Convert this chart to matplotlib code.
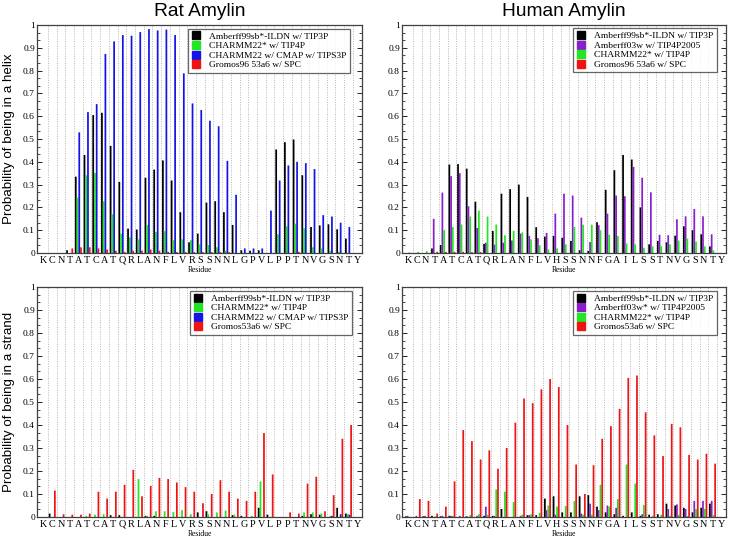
import matplotlib
matplotlib.use('Agg')
import matplotlib.pyplot as plt
import numpy as np
from matplotlib.lines import Line2D
from matplotlib.ticker import MultipleLocator, FixedLocator, FuncFormatter

rat_residues = list("KCNTATCATQRLANFLVRSSNNLGPVLPPTNVGSNTY")
human_residues = list("KCNTATCATQRLANFLVHSSNNFGAILSSTNVGSNTY")

# ---- Rat amylin, helix ----
rat_helix_amber = [0, 0, 0, 0.012, 0.335, 0.43, 0.605, 0.615, 0.47, 0.312, 0.107, 0.103, 0.33, 0.366,
                   0.406, 0.318, 0.179, 0.047, 0.085, 0.221, 0.227, 0.179, 0.123, 0.012, 0.01, 0.012, 0,
                   0.454, 0.486, 0.498, 0.341, 0.114, 0.121, 0.126, 0.104, 0.063, 0]
rat_helix_charmm22s = [0, 0, 0, 0, 0.243, 0.341, 0.351, 0.227, 0.17, 0.085, 0.068, 0.06, 0.123, 0.092,
                       0.096, 0.056, 0.06, 0.056, 0.038, 0.035, 0.025, 0.01, 0, 0, 0, 0, 0,
                       0.082, 0.117, 0.129, 0.108, 0.025, 0.02, 0.01, 0.005, 0, 0]
rat_helix_charmm22cmap = [0, 0, 0, 0, 0.529, 0.618, 0.653, 0.873, 0.928, 0.956, 0.953, 0.969, 0.982, 0.976,
                          0.98, 0.956, 0.788, 0.656, 0.627, 0.58, 0.556, 0.404, 0.255, 0.02, 0.02, 0.02, 0.186,
                          0.318, 0.384, 0.40, 0.394, 0.368, 0.166, 0.16, 0.133, 0.114, 0]
rat_helix_gromos = [0, 0, 0, 0.02, 0.025, 0.025, 0.02, 0.015, 0.01, 0.005, 0.01, 0.01, 0.015, 0.01,
                    0.005, 0.004, 0.004, 0.004, 0.004, 0.004, 0.004, 0.004, 0, 0, 0, 0, 0,
                    0, 0, 0.005, 0, 0, 0, 0, 0, 0, 0]

# ---- Human amylin, helix ----
hum_helix_amber = [0, 0, 0, 0.02, 0.035, 0.388, 0.39, 0.37, 0.225, 0.04, 0.097, 0.26, 0.28, 0.30,
                   0.246, 0.113, 0.072, 0.075, 0.067, 0.053, 0.012, 0.009, 0.135, 0.277, 0.363, 0.43, 0.41,
                   0.20, 0.038, 0.053, 0.047, 0.076, 0.117, 0.10, 0.082, 0.029, 0]
hum_helix_ff03w = [0, 0, 0, 0.15, 0.265, 0.337, 0.35, 0.205, 0.11, 0.045, 0.037, 0.045, 0.055, 0.085,
                   0.075, 0.065, 0.088, 0.173, 0.26, 0.252, 0.155, 0.048, 0.122, 0.173, 0.252, 0.249, 0.378,
                   0.33, 0.266, 0.08, 0.078, 0.148, 0.161, 0.193, 0.161, 0.082, 0]
hum_helix_charmm22s = [0.003, 0.005, 0.008, 0, 0.10, 0.114, 0.125, 0.16, 0.186, 0.16, 0.125, 0.078, 0.097, 0.09,
                       0.06, 0.034, 0.016, 0.02, 0.038, 0.114, 0.124, 0.124, 0.10, 0.08, 0.075, 0.042, 0.038,
                       0.023, 0.029, 0.029, 0.038, 0.054, 0.063, 0.05, 0.029, 0.012, 0]
hum_helix_gromos = [0, 0, 0, 0.005, 0.005, 0.005, 0.005, 0.004, 0.004, 0, 0, 0, 0, 0,
                    0, 0, 0, 0, 0, 0, 0, 0, 0, 0, 0, 0, 0,
                    0, 0, 0, 0, 0, 0, 0, 0, 0, 0]

# ---- Rat amylin, strand ----
rat_strand_amber = [0, 0.015, 0, 0, 0, 0, 0, 0, 0.008, 0.008, 0, 0, 0.005, 0.005,
                    0, 0, 0, 0, 0.02, 0.025, 0, 0, 0.008, 0.005, 0, 0.04, 0.01,
                    0, 0, 0, 0.005, 0.012, 0.01, 0, 0.04, 0.015, 0]
rat_strand_charmm22s = [0, 0, 0, 0, 0, 0.005, 0.01, 0.012, 0, 0, 0, 0.165, 0.005, 0.025,
                        0.025, 0.022, 0.03, 0.012, 0, 0.012, 0.02, 0.028, 0.01, 0, 0.005, 0.155, 0,
                        0, 0, 0, 0.02, 0.02, 0.015, 0.005, 0, 0.012, 0]
rat_strand_charmm22cmap = [0, 0, 0, 0, 0, 0, 0, 0, 0, 0, 0, 0, 0, 0,
                           0, 0, 0, 0, 0, 0, 0, 0, 0, 0, 0, 0, 0,
                           0, 0, 0, 0, 0, 0, 0.005, 0.012, 0.01, 0]
rat_strand_gromos = [0, 0.115, 0.012, 0.01, 0.01, 0.015, 0.11, 0.08, 0.11, 0.14, 0.205, 0.09, 0.135, 0.17,
                     0.165, 0.15, 0.13, 0.11, 0.06, 0.10, 0.16, 0.11, 0.08, 0.07, 0.11, 0.365, 0.185,
                     0, 0.02, 0.015, 0.145, 0.175, 0.025, 0.095, 0.34, 0.40, 0]

# ---- Human amylin, strand ----
hum_strand_amber = [0.003, 0, 0.003, 0.005, 0.003, 0.005, 0, 0.003, 0, 0.005, 0.005, 0.035, 0, 0,
                    0.008, 0.008, 0.08, 0.09, 0.02, 0.02, 0.09, 0.095, 0.045, 0.02, 0.012, 0.005, 0.02,
                    0.005, 0.01, 0.012, 0.058, 0.05, 0.04, 0.02, 0.04, 0.058, 0]
hum_strand_ff03w = [0.005, 0.005, 0.005, 0, 0.005, 0.005, 0.005, 0, 0.005, 0.045, 0.005, 0, 0, 0.005,
                    0.008, 0, 0.03, 0.01, 0, 0, 0.015, 0.058, 0.03, 0.05, 0.04, 0, 0,
                    0.012, 0, 0, 0.035, 0.055, 0.035, 0.07, 0.07, 0.07, 0]
hum_strand_charmm22s = [0, 0, 0, 0.003, 0, 0.005, 0, 0.008, 0.012, 0.01, 0.12, 0.11, 0.065, 0.01,
                        0.012, 0.018, 0.05, 0.045, 0.048, 0.07, 0.01, 0.01, 0.14, 0.045, 0.078, 0.228, 0.145,
                        0.052, 0.005, 0.01, 0.005, 0.01, 0.005, 0.035, 0.035, 0.008, 0]
hum_strand_gromos = [0, 0.078, 0.07, 0.015, 0.045, 0.155, 0.378, 0.33, 0.25, 0.29, 0.21, 0.30, 0.41, 0.515,
                     0.495, 0.555, 0.60, 0.565, 0.40, 0.228, 0.10, 0.225, 0.34, 0.395, 0.47, 0.605, 0.615,
                     0.455, 0.355, 0.265, 0.405, 0.39, 0.27, 0.25, 0.275, 0.232, 0]

rat_helix_labels = ["Amberff99sb*-ILDN w/ TIP3P", "CHARMM22* w/ TIP4P",
                    "CHARMM22 w/ CMAP w/ TIPS3P", "Gromos96 53a6 w/ SPC"]
hum_helix_labels = ["Amberff99sb*-ILDN w/ TIP3P", "Amberff03w w/ TIP4P2005",
                    "CHARMM22* w/ TIP4P", "Gromos96 53a6 w/ SPC"]
rat_strand_labels = ["Amberff99sb*-ILDN w/ TIP3P", "CHARMM22* w/ TIP4P",
                     "CHARMM22 w/ CMAP w/ TIPS3P", "Gromos53a6 w/ SPC"]
hum_strand_labels = ["Amberff99sb*-ILDN w/ TIP3P", "Amberff03w* w/ TIP4P2005",
                     "CHARMM22* w/ TIP4P", "Gromos53a6 w/ SPC"]

BLACK = '#000000'
GREEN = '#22e622'
BLUE = '#1414e6'
RED = '#ee1414'
PURPLE = '#8a1ecc'

rat_colors = [BLACK, GREEN, BLUE, RED]
hum_colors = [BLACK, PURPLE, GREEN, RED]

SERIF = ['Liberation Serif', 'DejaVu Serif']
SANS = ['Liberation Sans', 'DejaVu Sans']

W, H = 731, 538
fig = plt.figure(figsize=(W / 100, H / 100), dpi=100)


def px_axes(x0, y0, x1, y1):
    return fig.add_axes([x0 / W, 1 - y1 / H, (x1 - x0) / W, (y1 - y0) / H])


def draw_panel(ax, residues, series, colors, labels, legend_anchor):
    n = len(residues)
    x = np.arange(n)
    for k in range(n - 1):
        ax.axvline(k + 0.5, color='#b4b4b4', linestyle=(0, (1, 1.5)), linewidth=0.7, zorder=0)
    offsets = [-0.3, -0.1, 0.1, 0.3]
    for vals, col, off in zip(series, colors, offsets):
        bars = ax.bar(x + off, vals, width=0.2, color=col, edgecolor='none', zorder=2)
        for b in bars:
            b.set_snap(False)
    ax.set_xlim(-0.75, n - 0.45)
    ax.set_ylim(0, 1)
    ax.xaxis.set_major_locator(FixedLocator(x))
    ax.set_xticklabels(residues, fontfamily=SERIF, fontsize=7.3)
    ax.yaxis.set_major_locator(MultipleLocator(0.1))
    ax.yaxis.set_minor_locator(MultipleLocator(0.1 / 3))
    ax.yaxis.set_major_formatter(FuncFormatter(lambda v, p: ('%g' % round(v, 2))))
    for lab in ax.get_yticklabels():
        lab.set_fontfamily(SERIF)
        lab.set_fontsize(6.8)
    ax.tick_params(axis='both', which='both', direction='in', top=True, right=True)
    ax.tick_params(axis='y', which='major', length=3.5, width=0.6, pad=1.5, labelsize=6.8)
    ax.tick_params(axis='y', which='minor', length=2, width=0.5)
    ax.tick_params(axis='x', which='major', length=0, pad=2)
    for s in ax.spines.values():
        s.set_linewidth(0.9)
        s.set_color('#404040')
    ax.set_xlabel('Residue', fontfamily=SERIF, fontsize=5.5, labelpad=1)
    handles = [Line2D([], [], marker='s', linestyle='none', markersize=5.5,
                      markerfacecolor=c, markeredgecolor=c) for c in colors]
    leg = ax.legend(handles, labels, loc='upper right', bbox_to_anchor=legend_anchor,
                    prop={'family': SERIF, 'size': 6.8}, frameon=True, fancybox=False,
                    borderpad=0.35, labelspacing=0.1, handlelength=1.0, handletextpad=0.9,
                    borderaxespad=0.0)
    leg.get_frame().set_edgecolor('#404040')
    leg.get_frame().set_linewidth(0.9)
    leg.set_zorder(5)


ax1 = px_axes(37, 25, 362, 253)
ax2 = px_axes(402, 25, 726, 253)
ax3 = px_axes(37, 287, 362, 517)
ax4 = px_axes(402, 287, 726, 517)

draw_panel(ax1, rat_residues,
           [rat_helix_amber, rat_helix_charmm22s, rat_helix_charmm22cmap, rat_helix_gromos],
           rat_colors, rat_helix_labels, (0.963, 0.983))
draw_panel(ax2, human_residues,
           [hum_helix_amber, hum_helix_ff03w, hum_helix_charmm22s, hum_helix_gromos],
           hum_colors, hum_helix_labels, (0.972, 0.985))
draw_panel(ax3, rat_residues,
           [rat_strand_amber, rat_strand_charmm22s, rat_strand_charmm22cmap, rat_strand_gromos],
           rat_colors, rat_strand_labels, (0.968, 0.983))
draw_panel(ax4, human_residues,
           [hum_strand_amber, hum_strand_ff03w, hum_strand_charmm22s, hum_strand_gromos],
           hum_colors, hum_strand_labels, (0.972, 0.983))

fig.text(199.5 / W, 1 - 11 / H, 'Rat Amylin', fontfamily=SANS, fontsize=13.8, ha='center', va='center')
fig.text(564 / W, 1 - 11 / H, 'Human Amylin', fontfamily=SANS, fontsize=13.8, ha='center', va='center')
fig.text(9 / W, 1 - 139 / H, 'Probability of being in a helix', fontfamily=SANS, fontsize=9.6,
         rotation=90, ha='center', va='center')
fig.text(9 / W, 1 - 402 / H, 'Probability of being in a strand', fontfamily=SANS, fontsize=9.6,
         rotation=90, ha='center', va='center')

fig.savefig('out.png', dpi=100)
